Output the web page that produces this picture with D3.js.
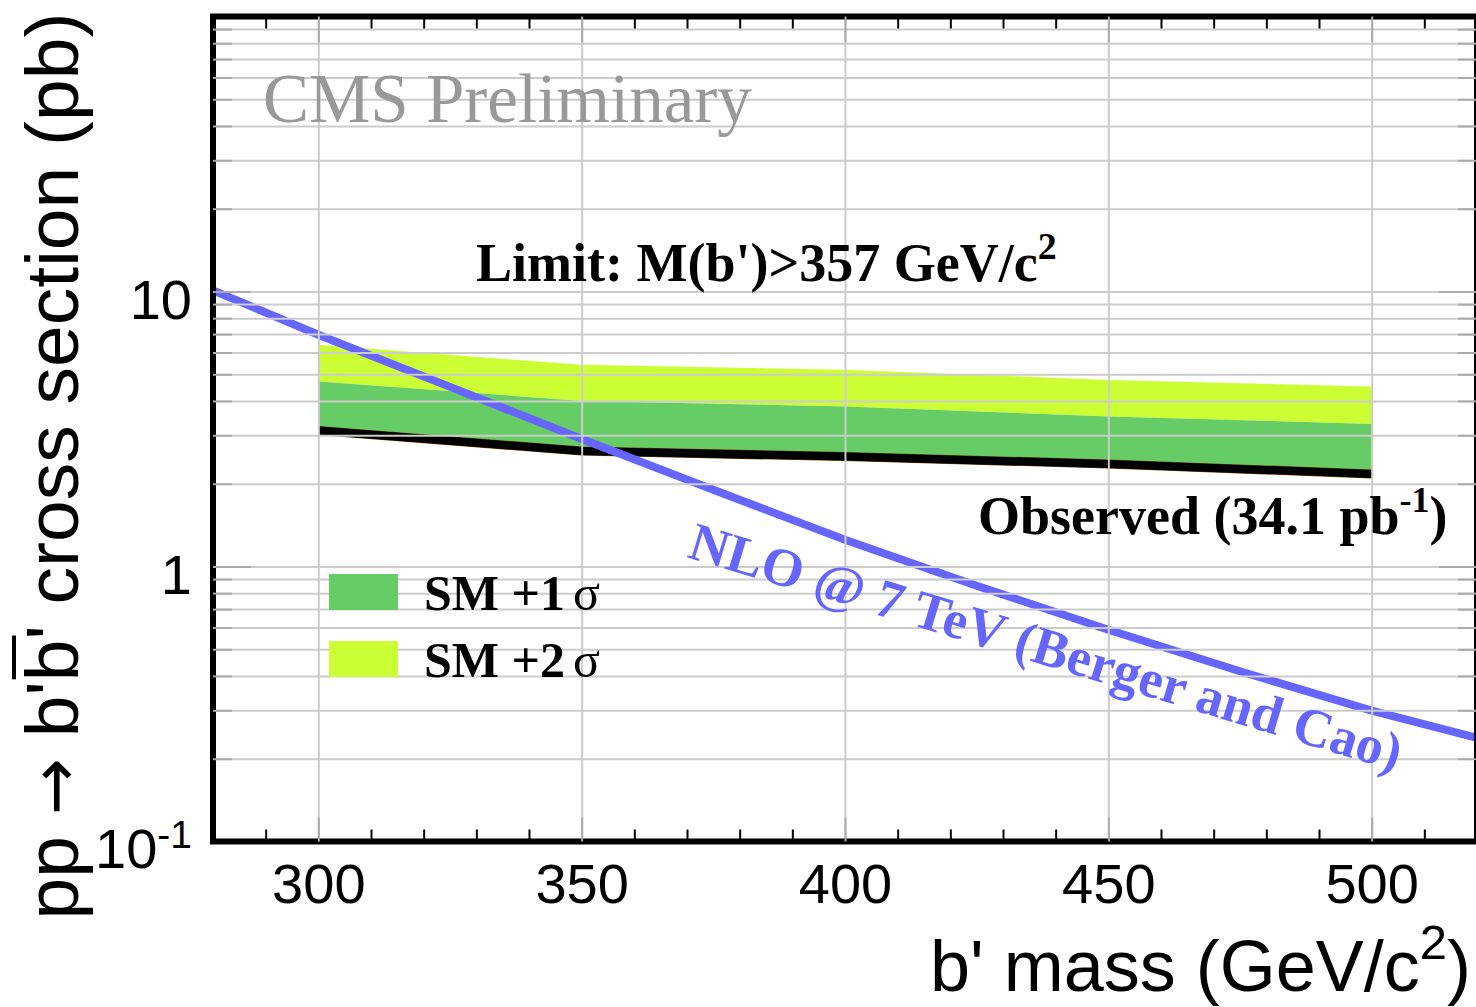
<!DOCTYPE html>
<html><head><meta charset="utf-8">
<script src="https://cdn.jsdelivr.net/npm/d3@7"></script>
<style>body{margin:0;background:#fff}svg{display:block}</style>
</head><body>
<svg id="c" width="1476" height="1007"></svg>
<script>
// ---- data ----
const masses = [300, 350, 400, 450, 500];
const observed = [3.12, 2.63, 2.51, 2.36, 2.17];
const plus1sigma = [4.71, 4.00, 3.82, 3.51, 3.30];
const plus2sigma = [6.40, 5.41, 5.19, 4.77, 4.51];
const nloMass = [280, 300, 325, 350, 375, 400, 425, 450, 475, 500, 520];
const nloXsec = [10.1, 6.96, 4.50, 2.91, 1.90, 1.25, 0.851, 0.589, 0.416, 0.299, 0.238];
const xMajorTicks = [300, 350, 400, 450, 500];
const yLabelTicks = [0.1, 1, 10];
const legendLabels = ["SM +1", "SM +2"];

// ---- layout ----
const X0 = 213, X1 = 1477, Y0 = 841.5, Y1 = 16.5;
const SANS = "'Liberation Sans', Arial, Helvetica, sans-serif";
const SERIF = "'Liberation Serif', 'Times New Roman', serif";
const svg = d3.select("#c");
const x = d3.scaleLinear().domain([280, 520]).range([X0, X1]);
const y = d3.scaleLog().domain([0.1, 100]).range([Y0, Y1]);

const xMinor = d3.range(290, 521, 10).filter(v => v % 50 !== 0);
const yGridVals = [];
[0.1, 1, 10].forEach(dec => { for (let k = 1; k <= 9; k++) { const v = +(k * dec).toFixed(3); if (v > 0.1 && v < 100) yGridVals.push(v); } });
const yMinor = yGridVals.filter(v => v !== 1 && v !== 10);

svg.append("defs").append("clipPath").attr("id", "clip")
  .append("rect").attr("x", X0).attr("y", Y1).attr("width", X1 - X0).attr("height", Y0 - Y1);

const plot = svg.append("g").attr("clip-path", "url(#clip)");
const bandData = masses.map((m, i) => ({m, obs: observed[i], s1: plus1sigma[i], s2: plus2sigma[i]}));
plot.append("path").datum(bandData)
  .attr("d", d3.area().x(d => x(d.m)).y0(d => y(d.s1)).y1(d => y(d.s2)))
  .attr("fill", "#ccff33");
plot.append("path").datum(bandData)
  .attr("d", d3.area().x(d => x(d.m)).y0(d => y(d.obs)).y1(d => y(d.s1)))
  .attr("fill", "#66cc66");

// grid
function styleAxis(g, color, width) {
  g.select(".domain").remove();
  g.selectAll(".tick line").attr("stroke", color).attr("stroke-width", width);
}
svg.append("g").attr("transform", `translate(${X0},0)`)
  .call(d3.axisLeft(y).tickValues(yGridVals).tickSize(-(X1 - X0)).tickFormat(""))
  .call(g => styleAxis(g, "#cccccc", 2));
svg.append("g").attr("transform", `translate(0,${Y0})`)
  .call(d3.axisBottom(x).tickValues(xMajorTicks).tickSize(-(Y0 - Y1)).tickFormat(""))
  .call(g => styleAxis(g, "#cccccc", 2));

// curves
const obsLine = d3.line().x(d => x(d[0])).y(d => y(d[1]));
plot.append("path").datum(masses.map((m, i) => [m, observed[i]]))
  .attr("d", obsLine).attr("fill", "none").attr("stroke", "#6b3a00").attr("stroke-width", 9);
plot.append("path").datum(masses.map((m, i) => [m, observed[i]]))
  .attr("d", obsLine).attr("fill", "none").attr("stroke", "#000").attr("stroke-width", 8);
plot.append("path").datum(nloMass.map((m, i) => [m, nloXsec[i]]))
  .attr("d", d3.line().x(d => x(d[0])).y(d => y(d[1])))
  .attr("fill", "none").attr("stroke", "#6666ff").attr("stroke-width", 8);

// frame
svg.append("rect").attr("x", X0).attr("y", Y1).attr("width", X1 - X0).attr("height", Y0 - Y1)
  .attr("fill", "none").attr("stroke", "#000").attr("stroke-width", 6);

// ticks
svg.append("g").attr("transform", `translate(0,${Y0})`)
  .call(d3.axisBottom(x).tickValues(xMinor).tickSize(-12).tickFormat(""))
  .call(g => styleAxis(g, "#000", 2));
svg.append("g").attr("transform", `translate(0,${Y1})`)
  .call(d3.axisTop(x).tickValues(xMinor).tickSize(-12).tickFormat(""))
  .call(g => styleAxis(g, "#000", 2));
svg.append("g").attr("transform", `translate(0,${Y1})`)
  .call(d3.axisTop(x).tickValues(xMajorTicks).tickSize(-26).tickFormat(""))
  .call(g => styleAxis(g, "#aaaaaa", 2));
const xAx = svg.append("g").attr("transform", `translate(0,${Y0})`)
  .call(d3.axisBottom(x).tickValues(xMajorTicks).tickSize(-24).tickFormat(d3.format("d")))
  .call(g => styleAxis(g, "#aaaaaa", 2));
xAx.selectAll(".tick text").attr("y", 903 - Y0).attr("dy", null)
  .attr("font-family", SANS).attr("font-size", 56).attr("fill", "#000");

[[d3.axisLeft, X0], [d3.axisRight, X1]].forEach(([ax, pos]) => {
  svg.append("g").attr("transform", `translate(${pos},0)`)
    .call(ax(y).tickValues(yMinor).tickSize(-19).tickFormat(""))
    .call(g => styleAxis(g, "#aaaaaa", 2));
  svg.append("g").attr("transform", `translate(${pos},0)`)
    .call(ax(y).tickValues([1, 10]).tickSize(-38).tickFormat(""))
    .call(g => styleAxis(g, "#aaaaaa", 2));
});
const yAx = svg.append("g").attr("transform", `translate(${X0},0)`)
  .call(d3.axisLeft(y).tickValues(yLabelTicks).tickSize(0).tickPadding(21)
    .tickFormat(d => d >= 1 ? String(d) : "10"));
yAx.select(".domain").remove();
yAx.selectAll(".tick text").attr("dy", 27).attr("font-family", SANS).attr("font-size", 56).attr("fill", "#000")
  .each(function(d) {
    if (d < 1) {
      d3.select(this).attr("dy", 26);
      d3.select(this).append("tspan").attr("dy", -20).attr("font-size", 39).text("-1");
    }
  });

// axis titles
const xt = svg.append("text").attr("x", 1471).attr("y", 991).attr("text-anchor", "end")
  .attr("font-family", SANS).attr("font-size", 72).attr("fill", "#000");
xt.append("tspan").text("b' mass (GeV/c");
xt.append("tspan").attr("dy", -32).attr("font-size", 49).text("2");
xt.append("tspan").attr("dy", 32).text(")");

const ytg = svg.append("g").attr("transform", "translate(78,466) rotate(-90)");
const yt = ytg.append("text").attr("x", 0).attr("y", 0).attr("text-anchor", "middle")
  .attr("font-family", SANS).attr("font-size", 75).attr("fill", "#000");
yt.append("tspan").text("pp ");
yt.append("tspan").attr("font-family", "'DejaVu Sans', sans-serif").attr("font-size", 68).text("\u2192");
yt.append("tspan").text(" b'b' cross section (pb)");
// index of the second "b" in the full string "pp → b'b' cross section (pb)"
const ext = yt.node().getExtentOfChar(7);
ytg.append("line").attr("x1", ext.x + 2).attr("x2", ext.x + ext.width + 4)
  .attr("y1", -64).attr("y2", -64).attr("stroke", "#000").attr("stroke-width", 4);

// annotations
svg.append("text").attr("x", 263).attr("y", 122).attr("font-family", SERIF).attr("font-size", 69)
  .attr("fill", "#999999").text("CMS Preliminary");

const lt = svg.append("text").attr("x", 476).attr("y", 281).attr("font-family", SERIF)
  .attr("font-weight", "bold").attr("font-size", 54).attr("fill", "#000");
lt.append("tspan").text("Limit: M(b')>357 GeV/c");
lt.append("tspan").attr("dy", -22).attr("font-size", 38).text("2");

const ot = svg.append("text").attr("x", 978).attr("y", 534).attr("font-family", SERIF)
  .attr("font-weight", "bold").attr("font-size", 54).attr("fill", "#000");
ot.append("tspan").text("Observed (34.1 pb");
ot.append("tspan").attr("dy", -22).attr("font-size", 36).text("-1");
ot.append("tspan").attr("dy", 22).text(")");

svg.append("text").attr("transform", "translate(686,557) rotate(16.8)")
  .attr("font-family", SERIF).attr("font-weight", "bold").attr("font-size", 54).attr("fill", "#6666ff")
  .text("NLO @ 7 TeV (Berger and Cao)");

// legend
const legColors = ["#66cc66", "#ccff33"];
legendLabels.forEach((lab, i) => {
  const yy = 574 + i * 67;
  svg.append("rect").attr("x", 329).attr("y", yy).attr("width", 69).attr("height", 36).attr("fill", legColors[i]);
  const t = svg.append("text").attr("x", 424).attr("y", yy + 36).attr("font-family", SERIF)
    .attr("font-size", 50).attr("fill", "#000");
  t.append("tspan").attr("font-weight", "bold").text(lab);
  t.append("tspan").attr("dx", 8).text("\u03c3");
});
</script>
</body></html>
